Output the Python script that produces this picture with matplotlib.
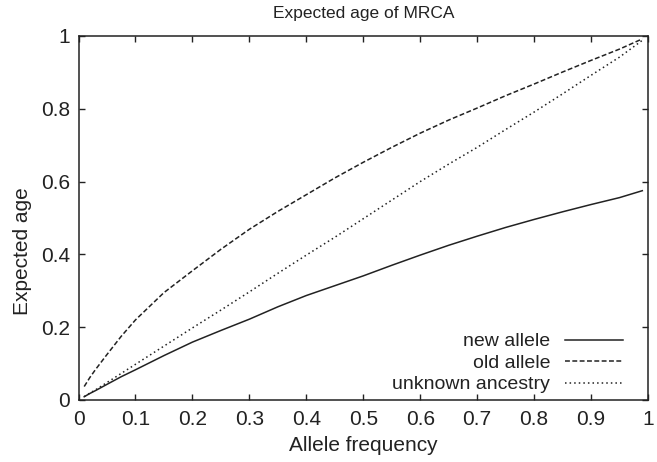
import matplotlib
matplotlib.use("Agg")
import matplotlib.pyplot as plt

plt.rcParams['font.family'] = ['Liberation Sans', 'DejaVu Sans']

freq = [0.01, 0.02, 0.03, 0.05, 0.075, 0.1, 0.15, 0.2, 0.25, 0.3, 0.35, 0.4,
        0.45, 0.5, 0.55, 0.6, 0.65, 0.7, 0.75, 0.8, 0.85, 0.9, 0.95, 0.99]
new_allele = [0.009, 0.018, 0.026, 0.043, 0.064, 0.083, 0.122, 0.159, 0.191,
              0.222, 0.256, 0.287, 0.314, 0.341, 0.370, 0.398, 0.425, 0.450,
              0.474, 0.496, 0.517, 0.537, 0.556, 0.575]
old_allele = [0.037, 0.062, 0.084, 0.125, 0.175, 0.220, 0.295, 0.355, 0.414,
              0.469, 0.518, 0.564, 0.610, 0.653, 0.694, 0.733, 0.769, 0.802,
              0.836, 0.868, 0.901, 0.933, 0.964, 0.992]
unknown_anc = [0.0094, 0.019, 0.028, 0.048, 0.073, 0.098, 0.148, 0.198, 0.247,
               0.297, 0.348, 0.398, 0.447, 0.498, 0.549, 0.600, 0.648, 0.694,
               0.743, 0.791, 0.841, 0.892, 0.942, 0.988]

xticks = [0, 0.1, 0.2, 0.3, 0.4, 0.5, 0.6, 0.7, 0.8, 0.9, 1]
xticklabels = ['0', '0.1', '0.2', '0.3', '0.4', '0.5', '0.6', '0.7', '0.8', '0.9', '1']
yticks = [0, 0.2, 0.4, 0.6, 0.8, 1]
yticklabels = ['0', '0.2', '0.4', '0.6', '0.8', '1']

fig = plt.figure(figsize=(6.57, 4.62), dpi=100)
ax = fig.add_axes([0.1195, 0.1342, 0.8668, 0.7879])

col = '#222222'
ax.plot(freq, new_allele, color=col, lw=1.1, label='new allele')
ax.plot(freq, old_allele, color=col, lw=1.1, linestyle=(0, (3.2, 1.6)), label='old allele')
ax.plot(freq, unknown_anc, color=col, lw=1.1, linestyle=(0, (1.0, 2.0)), label='unknown ancestry')

ax.set_xlim(0, 1)
ax.set_ylim(0, 1)
ax.set_xticks(xticks)
ax.set_xticklabels(xticklabels)
ax.set_yticks(yticks)
ax.set_yticklabels(yticklabels)
ax.tick_params(direction='in', length=4, width=1, top=True, right=True,
               labelsize=15, colors=col)
ax.tick_params(axis='x', pad=7)
ax.tick_params(axis='y', pad=6)
for s in ax.spines.values():
    s.set_linewidth(1.1)
    s.set_color(col)

ax.set_title('Expected age of MRCA', fontsize=12.5, color=col, pad=13)
ax.set_xlabel('Allele frequency', fontsize=15, color=col, labelpad=5)
ax.set_ylabel('Expected age', fontsize=15, color=col)
ax.yaxis.set_label_coords(-0.082, 0.41)

leg = ax.legend(loc='lower right', bbox_to_anchor=(0.977, -0.014), frameon=False,
                markerfirst=False, handlelength=3.0, handletextpad=0.75,
                labelspacing=0.2, fontsize=14, borderaxespad=0.2)
for t in leg.get_texts():
    t.set_color(col)

fig.savefig('out.png', dpi=100)
